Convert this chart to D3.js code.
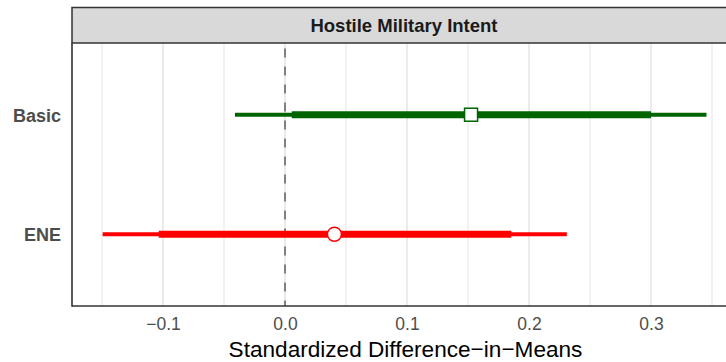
<!DOCTYPE html>
<html><head><meta charset="utf-8">
<script src="https://cdn.jsdelivr.net/npm/d3@7"></script>
<style>body{margin:0;background:#fff}svg{display:block;font-family:"Liberation Sans",Arial,Helvetica,sans-serif}</style>
</head><body><svg id="c" width="726" height="362"></svg>
<script>
const categories = ["Basic", "ENE"];
const estimates = [0.1525, 0.0405];
const lower90 = [0.0055, -0.1035];
const upper90 = [0.300, 0.1855];
const lower95 = [-0.041, -0.1495];
const upper95 = [0.3455, 0.231];
const colors = ["#006400", "#FF0000"];
const shapes = ["square", "circle"];
const xTicks = [-0.1, 0.0, 0.1, 0.2, 0.3];
const xMinor = [-0.15, -0.05, 0.05, 0.15, 0.25, 0.35];
const panelTitle = "Hostile Military Intent";
const xTitle = "Standardized Difference\u2212in\u2212Means";

const svg = d3.select("#c");
const L = 72, R = 727, T = 43, B = 306;
const stripTop = 7.5;
const x = d3.scaleLinear().domain([-0.1746, 0.3623]).range([L, R]);
// discrete positions 1..n with 0.6 expansion on each side
const yy = d3.scaleLinear().domain([0.4, categories.length + 0.6]).range([T, B]);
const yPos = c => yy(categories.indexOf(c) + 1);

// gridlines
svg.append("g").selectAll("line").data(xMinor).join("line")
  .attr("x1", d => x(d)).attr("x2", d => x(d)).attr("y1", T).attr("y2", B)
  .attr("stroke", "#EBEBEB").attr("stroke-width", 1.3);
svg.append("g").selectAll("line").data(xTicks).join("line")
  .attr("x1", d => x(d)).attr("x2", d => x(d)).attr("y1", T).attr("y2", B)
  .attr("stroke", "#E6E6E6").attr("stroke-width", 1.6);

// zero line
svg.append("line").attr("x1", x(0)).attr("x2", x(0)).attr("y1", T).attr("y2", B)
  .attr("stroke", "#808080").attr("stroke-width", 2).attr("stroke-dasharray", "9,9")
  .attr("stroke-dashoffset", 12.5);

// strip
svg.append("rect").attr("x", L).attr("y", stripTop).attr("width", R - L + 5).attr("height", T - stripTop)
  .attr("fill", "#D9D9D9").attr("stroke", "#333333").attr("stroke-width", 1.5);
svg.append("text").attr("x", 404).attr("y", 32)
  .attr("text-anchor", "middle").attr("font-weight", "bold").attr("font-size", 18.5)
  .attr("fill", "#1A1A1A").text(panelTitle);

// intervals
categories.forEach((c, i) => {
  const g = svg.append("g");
  g.append("line").attr("x1", x(lower95[i])).attr("x2", x(upper95[i]))
    .attr("y1", yPos(c)).attr("y2", yPos(c)).attr("stroke", colors[i]).attr("stroke-width", 4);
  g.append("line").attr("x1", x(lower90[i])).attr("x2", x(upper90[i]))
    .attr("y1", yPos(c)).attr("y2", yPos(c)).attr("stroke", colors[i]).attr("stroke-width", 7);
  if (shapes[i] === "square") {
    g.append("rect").attr("x", x(estimates[i]) - 6.5).attr("y", yPos(c) - 6.5)
      .attr("width", 13).attr("height", 13).attr("fill", "#fff").attr("stroke", colors[i]).attr("stroke-width", 1.5);
  } else {
    g.append("circle").attr("cx", x(estimates[i])).attr("cy", yPos(c)).attr("r", 7)
      .attr("fill", "#fff").attr("stroke", colors[i]).attr("stroke-width", 1.5);
  }
});

// panel border left & bottom
svg.append("line").attr("x1", L).attr("x2", L).attr("y1", T).attr("y2", B + 0.75)
  .attr("stroke", "#333333").attr("stroke-width", 1.6);
svg.append("line").attr("x1", L).attr("x2", 726).attr("y1", B).attr("y2", B)
  .attr("stroke", "#333333").attr("stroke-width", 1.6);

// x axis
const fmt = d => (d < 0 ? "\u2212" : "") + Math.abs(d).toFixed(1);
const xAxis = svg.append("g").attr("transform", `translate(0,${B})`)
  .call(d3.axisBottom(x).tickValues(xTicks).tickFormat(fmt).tickSize(0).tickPadding(0));
xAxis.select(".domain").remove();
xAxis.selectAll("line").remove();
xAxis.selectAll("text").attr("y", 24).attr("dy", null).attr("font-size", 17.5).attr("fill", "#4D4D4D")
  .attr("font-family", "Liberation Sans, Arial, sans-serif");

// y axis labels
const yAxis = svg.append("g").attr("transform", `translate(${L},0)`)
  .call(d3.axisLeft(yy).tickValues(categories.map((c, i) => i + 1)).tickFormat(d => categories[d - 1]).tickSize(0).tickPadding(11));
yAxis.select(".domain").remove();
yAxis.selectAll("line").remove();
yAxis.selectAll("text").attr("dy", "0.36em").attr("font-size", 18).attr("font-weight", "bold").attr("fill", "#4D4D4D")
  .attr("font-family", "Liberation Sans, Arial, sans-serif");

// x title
svg.append("text").attr("x", 405.5).attr("y", 357)
  .attr("text-anchor", "middle").attr("font-size", 22.6).attr("fill", "#000").text(xTitle);
</script></body></html>
